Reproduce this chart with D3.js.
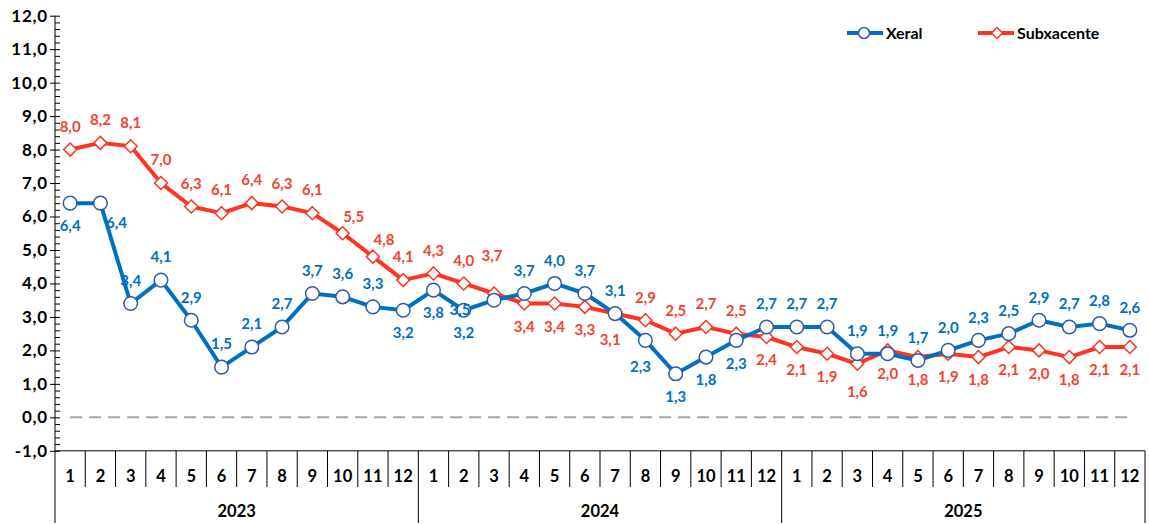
<!DOCTYPE html>
<html>
<head>
<meta charset="utf-8">
<script src="https://d3js.org/d3.v7.min.js"></script>
<style>
  body { margin: 0; background: #fff; }
  svg text { font-family: Lato, "Open Sans", sans-serif; font-weight: 700; }
  .lbl { font-size: 15px; }
  .axisTxt { font-size: 16.5px; fill: #000; }
  .yTxt { font-size: 17px; fill: #000; letter-spacing: 0.8px; }
</style>
</head>
<body>
<div id="chart"></div>
<script>
// data
var years = ["2023", "2024", "2025"];
var monthLabels = ["1","2","3","4","5","6","7","8","9","10","11","12"];
var seriesNames = ["Xeral", "Subxacente"];

var xeral = [6.4, 6.4, 3.4, 4.1, 2.9, 1.5, 2.1, 2.7, 3.7, 3.6, 3.3, 3.2,
             3.8, 3.2, 3.5, 3.7, 4.0, 3.7, 3.1, 2.3, 1.3, 1.8, 2.3, 2.7,
             2.7, 2.7, 1.9, 1.9, 1.7, 2.0, 2.3, 2.5, 2.9, 2.7, 2.8, 2.6];
var subxacente = [8.0, 8.2, 8.1, 7.0, 6.3, 6.1, 6.4, 6.3, 6.1, 5.5, 4.8, 4.1,
                  4.3, 4.0, 3.7, 3.4, 3.4, 3.3, 3.1, 2.9, 2.5, 2.7, 2.5, 2.4,
                  2.1, 1.9, 1.6, 2.0, 1.8, 1.9, 1.8, 2.1, 2.0, 1.8, 2.1, 2.1];
var yTicks = [-1, 0, 1, 2, 3, 4, 5, 6, 7, 8, 9, 10, 11, 12];

// where each data label sits (a = above, b = below ...)
var xeralLabelPos = ["b","br","a","a","a","a","a","a","a","a","a","b",
                     "b","b","l","a","a","a","a","bl","b","b","b","a",
                     "a","a","a","a","a","a","a","a","a","a","a","a"];
var subxLabelPos = ["a","a","a","a","a","a","a","a","a","ar","ar","a",
                    "a","a","aa","b","b","b","bl","a","a","a","a","b",
                    "b","b","bb","b","b","b","b","b","b","b","b","b"];

var offsets = {
    a: [0, -23], b: [0, 23], br: [16, 20], l: [-34, 10], bl: [-5, 26],
    ar: [11, -17], aa: [-2, -38], bb: [0, 28]
};

var blue = "#0070C0", blueDark = "#2F5AA8", red = "#FF3322", redText = "#F24432";

var width = 1149, height = 524;
var plotLeft = 55, plotRight = 1145, plotTop = 15.7, plotBottom = 450.8;

var svg = d3.select("#chart").append("svg")
    .attr("width", width).attr("height", height);

var fmt = function(v) { return d3.format(".1f")(v).replace(".", ",").replace("\u2212", "-"); };

var nCat = years.length * monthLabels.length;
var x = d3.scaleBand().domain(d3.range(nCat)).range([plotLeft, plotRight]);
var xc = function(i) { return x(i) + x.bandwidth() / 2; };
var y = d3.scaleLinear().domain([-1, 12]).range([plotBottom, plotTop]);

// y axis: labels + outer tick
var yAxis = svg.append("g")
    .attr("transform", "translate(" + plotLeft + ",0)")
    .call(d3.axisLeft(y).tickValues(yTicks).tickSize(5).tickPadding(3).tickFormat(fmt));
yAxis.select(".domain").remove();
yAxis.selectAll("line").attr("stroke", "#000");
yAxis.selectAll("text").attr("class", "yTxt").attr("x", -7);

// minor ticks (inside)
var minor = d3.range(-1, 12.001, 0.2);
svg.append("g")
    .attr("transform", "translate(" + plotLeft + ",0)")
    .call(d3.axisRight(y).tickValues(minor).tickSize(5).tickFormat(""))
    .call(function(g) { g.select(".domain").remove(); })
    .selectAll("line").attr("stroke", "#000");

// vertical axis line (runs down through the category area)
svg.append("line")
    .attr("x1", plotLeft).attr("x2", plotLeft).attr("y1", plotTop).attr("y2", 523)
    .attr("stroke", "#000").attr("stroke-width", 1);

// category axis
svg.append("line")
    .attr("x1", plotLeft).attr("x2", plotRight).attr("y1", plotBottom).attr("y2", plotBottom)
    .attr("stroke", "#000");

var cats = d3.range(nCat);
svg.append("g").selectAll("line").data(cats.slice(1)).enter().append("line")
    .attr("x1", function(i) { return x(i); }).attr("x2", function(i) { return x(i); })
    .attr("y1", plotBottom)
    .attr("y2", function(i) { return i % 12 === 0 ? 523 : 487; })
    .attr("stroke", "#000");
svg.append("line")
    .attr("x1", plotRight).attr("x2", plotRight).attr("y1", plotBottom).attr("y2", 523)
    .attr("stroke", "#000");

svg.append("g").selectAll("text").data(cats).enter().append("text")
    .attr("class", "axisTxt")
    .attr("x", xc).attr("y", 476).attr("dy", "0.35em")
    .attr("text-anchor", "middle")
    .text(function(i) { return monthLabels[i % 12]; });

svg.append("g").selectAll("text").data(years).enter().append("text")
    .attr("class", "axisTxt")
    .attr("x", function(d, k) { return (x(k * 12) + x(k * 12 + 11) + x.bandwidth()) / 2; })
    .attr("y", 511).attr("dy", "0.35em")
    .attr("text-anchor", "middle")
    .text(function(d) { return d; });

// zero line
svg.append("line")
    .attr("x1", xc(0)).attr("x2", xc(nCat - 1))
    .attr("y1", y(0)).attr("y2", y(0))
    .attr("stroke", "#A6A6A6").attr("stroke-width", 2)
    .attr("stroke-dasharray", "12,7");

var line = d3.line().x(function(d, i) { return xc(i); }).y(function(d) { return y(d); });
var diamond = function(cx, cy, r) {
    return "M" + cx + "," + (cy - r) + "L" + (cx + r) + "," + cy + "L" + cx + "," + (cy + r) + "L" + (cx - r) + "," + cy + "Z";
};

// subxacente
svg.append("path").datum(subxacente)
    .attr("d", line).attr("fill", "none")
    .attr("stroke", red).attr("stroke-width", 4).attr("stroke-linejoin", "round");
// xeral
svg.append("path").datum(xeral)
    .attr("d", line).attr("fill", "none")
    .attr("stroke", blue).attr("stroke-width", 4).attr("stroke-linejoin", "round");

svg.append("g").selectAll("path").data(subxacente).enter().append("path")
    .attr("d", function(d, i) { return diamond(xc(i), y(d), 6.5); })
    .attr("fill", "#fff").attr("stroke", red).attr("stroke-width", 1.5);

svg.append("g").selectAll("circle").data(xeral).enter().append("circle")
    .attr("cx", function(d, i) { return xc(i); }).attr("cy", function(d) { return y(d); })
    .attr("r", 6.8)
    .attr("fill", "#fff").attr("stroke", blueDark).attr("stroke-width", 1.5);

// data labels
svg.append("g").selectAll("text").data(subxacente).enter().append("text")
    .attr("class", "lbl").attr("fill", redText).attr("text-anchor", "middle")
    .attr("x", function(d, i) { return xc(i) + offsets[subxLabelPos[i]][0]; })
    .attr("y", function(d, i) { return y(d) + offsets[subxLabelPos[i]][1]; })
    .attr("dy", "0.35em")
    .text(fmt);

svg.append("g").selectAll("text").data(xeral).enter().append("text")
    .attr("class", "lbl").attr("fill", blue).attr("text-anchor", "middle")
    .attr("x", function(d, i) { return xc(i) + offsets[xeralLabelPos[i]][0]; })
    .attr("y", function(d, i) { return y(d) + offsets[xeralLabelPos[i]][1]; })
    .attr("dy", "0.35em")
    .text(fmt);

// legend
var legend = svg.append("g");
var legX = [847, 978];
seriesNames.forEach(function(name, k) {
    var g = legend.append("g").attr("transform", "translate(" + legX[k] + ",33)");
    var col = k === 0 ? blue : red;
    g.append("line").attr("x1", 0).attr("x2", 36).attr("stroke", col).attr("stroke-width", 4);
    if (k === 0) {
        g.append("circle").attr("cx", 17).attr("r", 5.5)
            .attr("fill", "#fff").attr("stroke", blueDark).attr("stroke-width", 1.5);
    } else {
        g.append("path").attr("d", diamond(19, 0, 5.5))
            .attr("fill", "#fff").attr("stroke", red).attr("stroke-width", 1.5);
    }
    g.append("text").attr("x", 39).attr("dy", "0.35em")
        .style("font-size", "16px").attr("fill", "#000").text(name);
});
</script>
</body>
</html>
